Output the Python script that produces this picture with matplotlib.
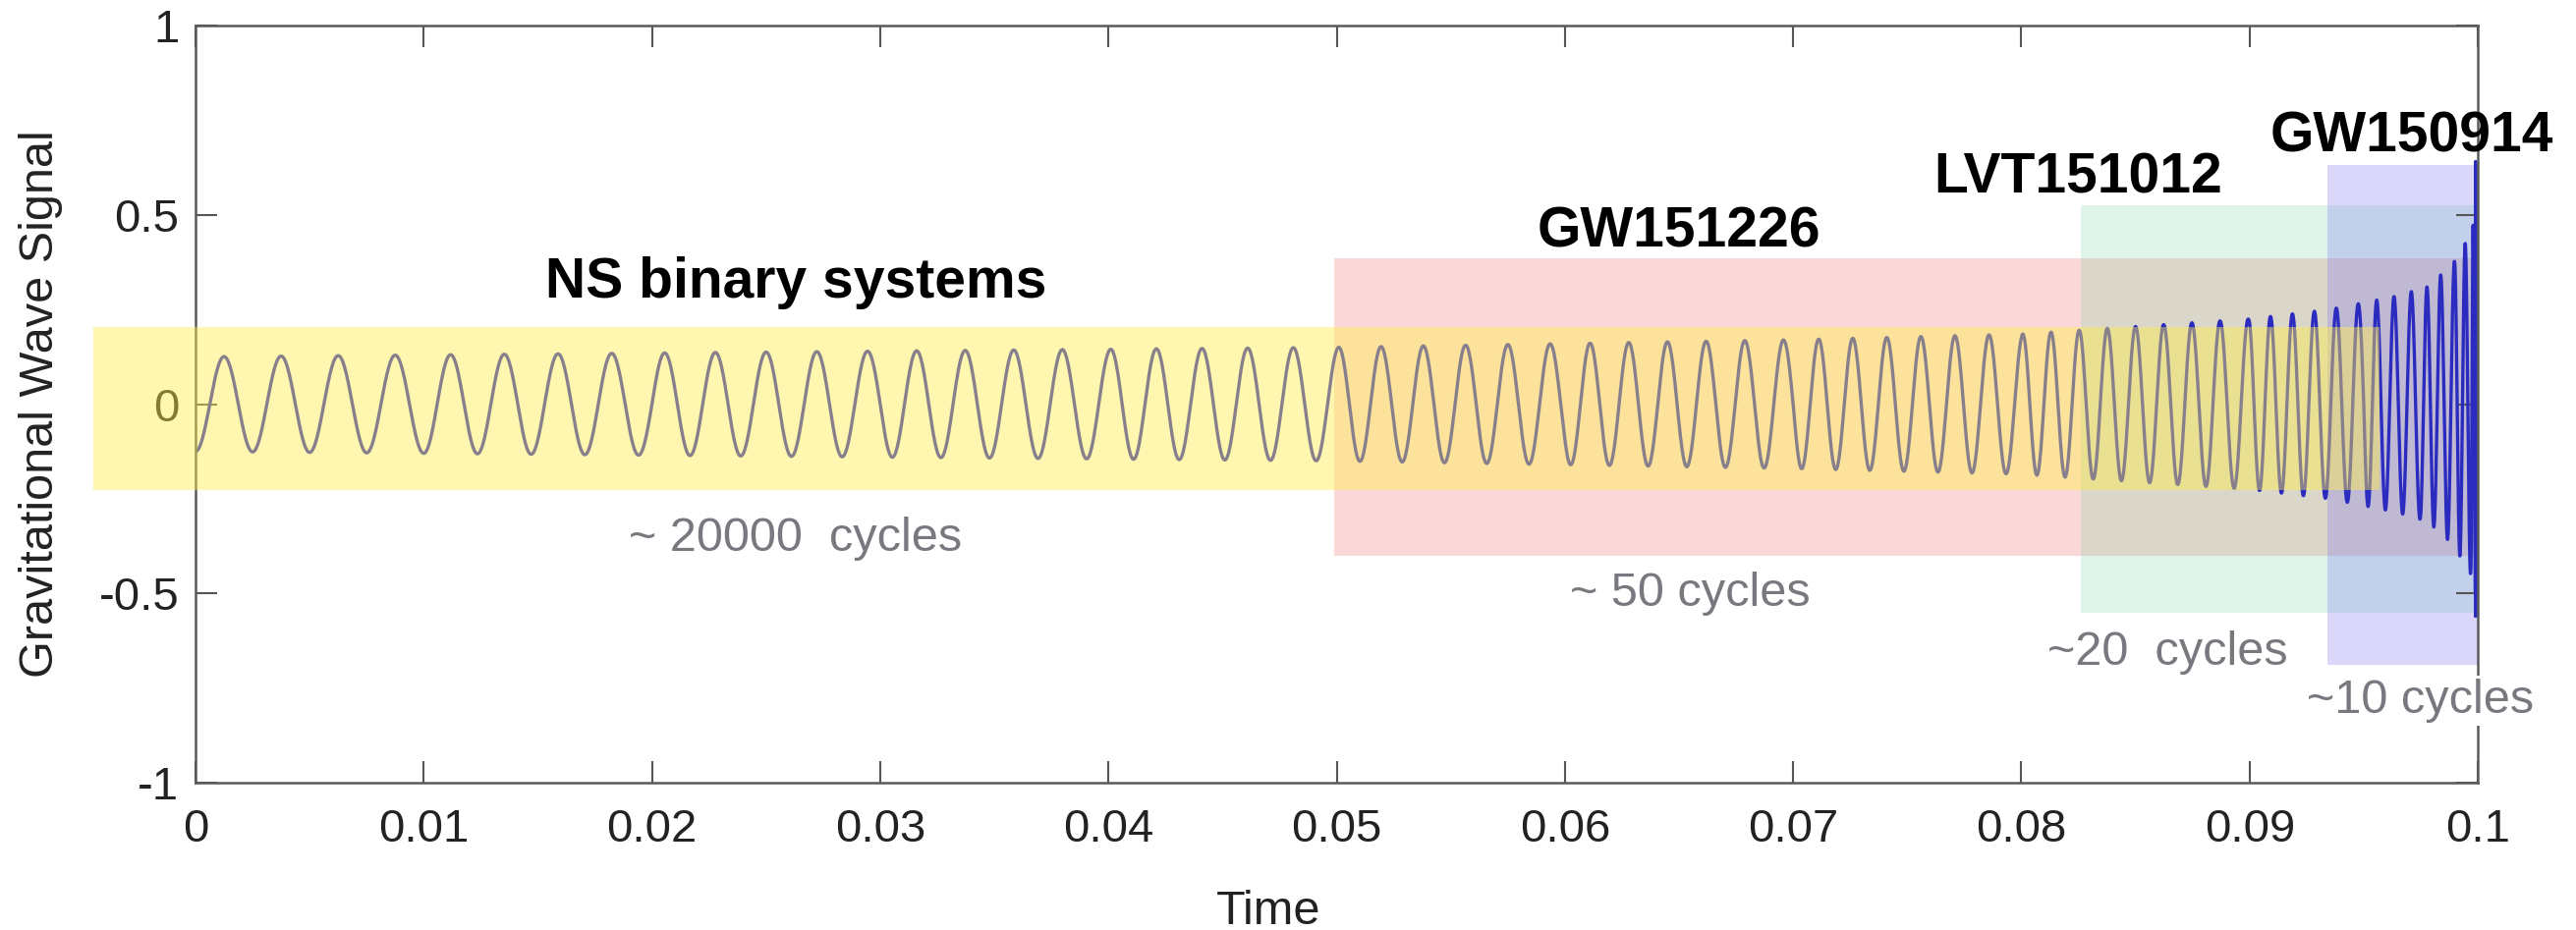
import numpy as np
import matplotlib
matplotlib.use("Agg")
import matplotlib.pyplot as plt
from matplotlib.patches import Rectangle

plt.rcParams['font.family'] = ['Liberation Sans', 'DejaVu Sans']

# --- data ---
# cycle counts of the chirp between successive time edges
seg_edges = [0.0, 0.01, 0.02, 0.03, 0.04, 0.05, 0.06, 0.07, 0.08, 0.09, 0.095, 0.0975, 0.099, 0.0997, 0.0999]
seg_cycles = [4.0, 4.25, 4.5, 4.7, 5.0, 5.4, 5.9, 6.7, 8.1, 5.2, 3.3, 2.5, 1.5, 1.0]

# envelope (amplitude) of the signal
amp_t = [0.0, 0.02, 0.05, 0.07, 0.08, 0.09, 0.0935, 0.0964, 0.0978, 0.0989, 0.0997, 0.0999]
amp_v = [0.125, 0.135, 0.15, 0.17, 0.185, 0.225, 0.25, 0.285, 0.31, 0.37, 0.45, 0.5]

# final merger spike at the right edge
spike_t = [0.0999, 0.0999, 0.0999]
spike_v = [0.64, -0.56, 0.0]

# shaded boxes: (x0, x1, y0, y1)
box_names = ['GW151226', 'LVT151012', 'GW150914']
box_x0 = [0.0499, 0.0826, 0.0934]
box_x1 = [0.1, 0.1, 0.1]
box_y0 = [-0.40, -0.551, -0.689]
box_y1 = [0.386, 0.525, 0.632]
box_colors = [(0.90, 0.24, 0.24), (0.39, 0.82, 0.59), (0.43, 0.39, 0.94)]
box_alpha = [0.2, 0.2, 0.25]

ns_box = (-0.00448, 0.0957, -0.227, 0.204)

# labels
title_texts = ['NS binary systems', 'GW151226', 'LVT151012', 'GW150914']
title_x = [0.0263, 0.0650, 0.0825, 0.0971]
title_y = [0.282, 0.414, 0.557, 0.668]

cycle_texts = ['~ 20000  cycles', '~ 50 cycles', '~20  cycles', '~10 cycles']
cycle_x = [0.0263, 0.0655, 0.0864, 0.0975]
cycle_y = [-0.389, -0.534, -0.689, -0.816]

xticks = [0, 0.01, 0.02, 0.03, 0.04, 0.05, 0.06, 0.07, 0.08, 0.09, 0.1]
xtick_labels = ['0', '0.01', '0.02', '0.03', '0.04', '0.05', '0.06', '0.07', '0.08', '0.09', '0.1']
yticks = [-1, -0.5, 0, 0.5, 1]
ytick_labels = ['-1', '-0.5', '0', '0.5', '1']

# --- build the waveform curve ---
t = np.linspace(0, seg_edges[-1], 40000)
phase = np.interp(t, seg_edges, np.concatenate([[0], np.cumsum(seg_cycles)]))
amp = np.interp(t, amp_t, amp_v)
h = -amp * np.cos(2 * np.pi * phase)
t = np.concatenate([t, spike_t])
h = np.concatenate([h, spike_v])

fig = plt.figure(figsize=(26.22, 9.47), dpi=100)
ax = fig.add_axes([0.0759, 0.1584, 0.9619 - 0.0759, 0.9725 - 0.1584])

for x0, x1, y0, y1, c, a in zip(box_x0, box_x1, box_y0, box_y1, box_colors, box_alpha):
    ax.add_patch(Rectangle((x0, y0), x1 - x0, y1 - y0, facecolor=c, alpha=a,
                           edgecolor='none', zorder=1))

ax.plot(t, h, color='#2b2bbf', lw=2.4, zorder=2)

# yellow band sits on top of the line
ax.add_patch(Rectangle((ns_box[0], ns_box[2]), ns_box[1] - ns_box[0], ns_box[3] - ns_box[2],
                       facecolor=(1.0, 0.937, 0.294), alpha=0.44, edgecolor='none',
                       zorder=3, clip_on=False))

for s, x, y in zip(title_texts, title_x, title_y):
    ax.text(x, y, s, ha='center', va='baseline', fontsize=41, fontweight='bold',
            color='black', zorder=5)
for i, (s, x, y) in enumerate(zip(cycle_texts, cycle_x, cycle_y)):
    txt = ax.text(x, y, s, ha='center', va='baseline', fontsize=35, color='#78787f',
                  zorder=5, clip_on=False)
    if i == len(cycle_texts) - 1:
        # this one covers the right spine in the original
        txt.set_bbox(dict(facecolor='white', edgecolor='none', pad=2))

ax.set_xlim(0, 0.1)
ax.set_ylim(-1, 1)
ax.set_xticks(xticks)
ax.set_xticklabels(xtick_labels)
ax.set_yticks(yticks)
ax.set_yticklabels(ytick_labels)

ax.tick_params(direction='in', length=16, width=1.5, color='#555555',
               top=True, right=True, labelsize=34, labelcolor='#222222')
ax.tick_params(axis='x', pad=19)
ax.tick_params(axis='y', pad=12)
for sp in ax.spines.values():
    sp.set_color('#5a5a5a')
    sp.set_linewidth(1.8)

ax.set_xlabel('Time', fontsize=35, color='#222222')
ax.xaxis.label.set_va('baseline')
ax.xaxis.set_label_coords(0.47, -0.187)
ax.set_ylabel('Gravitational Wave Signal', fontsize=35, color='#222222')
ax.yaxis.set_label_coords(-0.058, 0.5)

fig.savefig('out.png', dpi=100)
